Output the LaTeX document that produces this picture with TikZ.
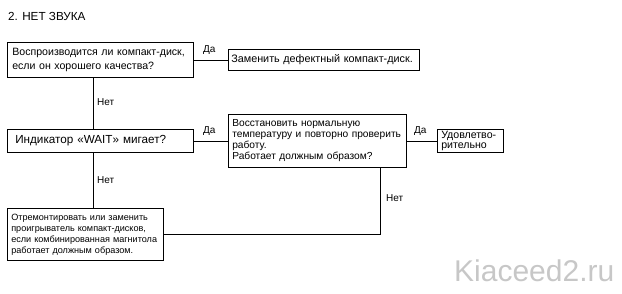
\documentclass[tikz,border=0pt]{standalone}
\usepackage{fontspec}
\setmainfont{Liberation Sans}
\usetikzlibrary{shadows}
\tikzset{
  blok/.style={draw, fill=white, line width=0.6pt, anchor=north west, align=left,
    inner ysep=0pt, drop shadow={shadow xshift=0.8pt, shadow yshift=-0.8pt, fill=black!30, opacity=1}},
  metka/.style={font=\fontsize{10}{12}\selectfont, inner sep=0pt},
  svyaz/.style={line width=0.6pt}
}
\begin{document}
\begin{tikzpicture}[x=1pt, y=-1pt]
  % page frame with margins
  \useasboundingbox (0,0) rectangle (622,293);
  % title
  \node[anchor=west, inner sep=0pt, font=\fontsize{11.7}{13}\selectfont] (titul) at (8,16) {2. НЕТ ЗВУКА};
  % question and action boxes
  \node[blok, text width=178pt, inner xsep=4pt, minimum height=35pt,
        font=\fontsize{10.6}{13.5}\selectfont] (vopros) at (7,42)
        {\hspace*{1pt}Воспроизводится ли компакт-диск,\\\hspace*{1pt}если он хорошего качества?};
  \node[blok, text width=185pt, inner xsep=3pt, minimum height=21pt,
        font=\fontsize{10.8}{12}\selectfont] (zamena) at (228,49)
        {Заменить дефектный компакт-диск.};
  \node[blok, text width=176pt, inner xsep=5pt, minimum height=23pt,
        font=\fontsize{11.7}{13}\selectfont] (indik) at (7,129)
        {\hspace*{3pt}Индикатор «WAIT» мигает?};
  \node[blok, text width=170pt, inner xsep=4pt, minimum height=53pt,
        font=\fontsize{10.2}{11}\selectfont] (temper) at (228,114)
        {Восстановить нормальную\\температуру и повторно проверить\\работу.\\Работает должным образом?};
  \node[blok, text width=58pt, inner xsep=4pt, minimum height=23pt,
        font=\fontsize{10.6}{9.5}\selectfont] (udovl) at (437,129)
        {Удовлетво-\\рительно};
  \node[blok, text width=150pt, inner xsep=3pt, minimum height=52pt,
        font=\fontsize{9.1}{11}\selectfont] (remont) at (7,208)
        {\hspace*{1pt}Отремонтировать или заменить\\\hspace*{1pt}проигрыватель компакт-дисков,\\\hspace*{1pt}если комбинированная магнитола\\\hspace*{1pt}работает должным образом.};
  % branch points on the boxes
  \coordinate (stvol) at (93,0);
  \coordinate (otvod) at (380,0);
  % connectors
  \draw[svyaz] (vopros.east) -- (zamena.west);
  \draw[svyaz] (vopros.south -| stvol) -- (indik.north -| stvol);
  \draw[svyaz] (indik.east) -- (temper.west |- indik.east);
  \draw[svyaz] (temper.east |- udovl.west) -- (udovl.west);
  \draw[svyaz] (indik.south -| stvol) -- (remont.north -| stvol);
  \draw[svyaz] (temper.south -| otvod) |- (remont.east);
  % answer labels
  \node[metka, anchor=west] (da1) at (203,50) {Да};
  \node[metka, anchor=west] (net1) at (97,102) {Нет};
  \node[metka, anchor=west] (da2) at (203,131) {Да};
  \node[metka, anchor=west] (da3) at (414,131) {Да};
  \node[metka, anchor=west] (net2) at (97,180) {Нет};
  \node[metka, anchor=west] (net3) at (386,198) {Нет};
  % watermark
  \node[anchor=west, inner sep=0pt, text=black!22, font=\fontsize{30}{32}\selectfont] (znak) at (454,271) {Kiaceed2.ru};
\end{tikzpicture}
\end{document}
